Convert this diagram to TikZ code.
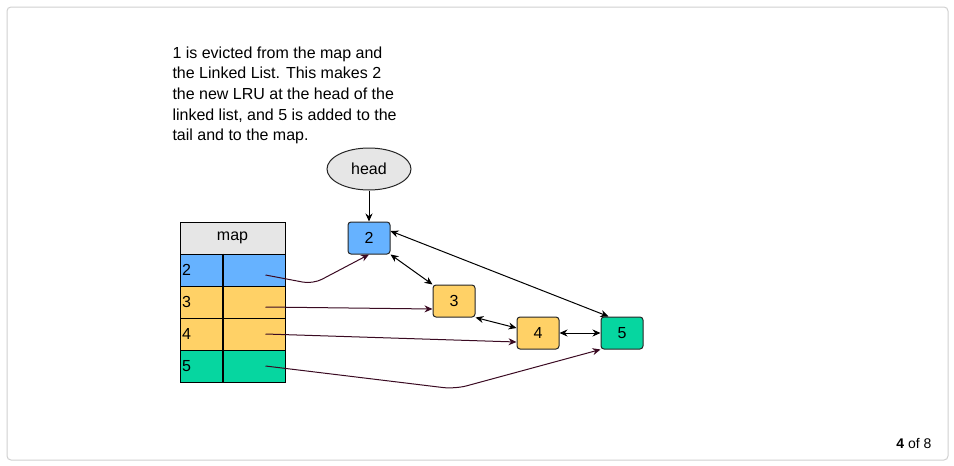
\documentclass[tikz,border=0pt]{standalone}
\usepackage{fontspec}
\setmainfont{Liberation Sans}
\usetikzlibrary{arrows.meta,shapes.geometric,positioning}

\definecolor{lrublue}{HTML}{66B2FF}
\definecolor{lruyellow}{HTML}{FFD166}
\definecolor{lrugreen}{HTML}{06D6A0}
\definecolor{lrugray}{HTML}{E6E6E6}
\definecolor{ptrwine}{HTML}{3A0A22}
\definecolor{framegray}{HTML}{D0D0D0}

\tikzset{
  txt/.style={font=\fontsize{16}{20.7}\selectfont},
  listnode/.style={draw=black!85, rounded corners=3pt, minimum width=42pt, minimum height=32pt, inner sep=0pt, txt},
  keycell/.style={draw, minimum height=32pt, text width=38pt, align=left, inner sep=2pt, txt},
  valcell/.style={draw, minimum width=63pt, minimum height=32pt, inner sep=0pt},
  link/.style={{Stealth[length=8pt,width=7pt]}-{Stealth[length=8pt,width=7pt]}, black},
  ptr/.style={-{Stealth[length=8pt,width=7pt]}, ptrwine},
}

\begin{document}
\begin{tikzpicture}[x=1pt,y=-1pt,line width=1pt]
  \useasboundingbox (0,0) rectangle (954,466);
  \draw[framegray, rounded corners=4pt] (7,7) rectangle (948,460);

  % caption
  \node[txt, anchor=north west, align=left, inner sep=0pt] (caption) at (172,46)
    {1 is evicted from the map and\\the Linked List. This makes 2\\the new LRU at the head of the\\linked list, and 5 is added to the\\tail and to the map.};

  % map table
  \node[draw, fill=lrugray, minimum width=105pt, minimum height=32pt, inner sep=0pt, txt] (maphead) at (232.5,238) {map};
  \node[keycell, fill=lrublue] (k2) at (201,270) {2};
  \node[keycell, fill=lruyellow] (k3) at (201,302) {3};
  \node[keycell, fill=lruyellow] (k4) at (201,334) {4};
  \node[keycell, fill=lrugreen] (k5) at (201,366) {5};
  \node[valcell, fill=lrublue] (v2) at (253.5,270) {};
  \node[valcell, fill=lruyellow] (v3) at (253.5,302) {};
  \node[valcell, fill=lruyellow] (v4) at (253.5,334) {};
  \node[valcell, fill=lrugreen] (v5) at (253.5,366) {};
  \draw[line width=2pt] (k2.north east) -- (k5.south east);

  % linked list
  \node[ellipse, draw=black!85, fill=lrugray, minimum width=84pt, minimum height=42pt, inner sep=0pt, txt] (head) at (369,169) {head};
  \node[listnode, fill=lrublue] (n2) at (369,238) {2};
  \node[listnode, fill=lruyellow] (n3) at (454,301) {3};
  \node[listnode, fill=lruyellow] (n4) at (538,333) {4};
  \node[listnode, fill=lrugreen] (n5) at (622,333) {5};

  \coordinate (bend2) at (313,284);
  \coordinate (bend5) at (455,389);

  \draw[-{Stealth[length=8pt,width=7pt]}] (head) -- (n2);
  \draw[link] (n2.south east) -- (n3.north west);
  \draw[link] ([yshift=7pt]n2.east) -- ([xshift=8pt]n5.north west);
  \draw[link] (n3.south east) -- ([yshift=5pt]n4.west);
  \draw[link] (n4) -- (n5);

  \draw[ptr, rounded corners=10pt] ([xshift=12pt,yshift=-5pt]v2.center) -- (bend2) -- (n2.south);
  \draw[ptr] ([xshift=12pt,yshift=-5pt]v3.center) -- ([yshift=-8pt]n3.west);
  \draw[ptr] ([xshift=12pt]v4.center) -- ([yshift=-9pt]n4.west);
  \draw[ptr, rounded corners=12pt] ([xshift=12pt]v5.center) -- (bend5) -- (n5.south west);

  \node[font=\fontsize{14}{16}\selectfont] (pager) at (914,443) {\textbf{4} of 8};
\end{tikzpicture}
\end{document}
